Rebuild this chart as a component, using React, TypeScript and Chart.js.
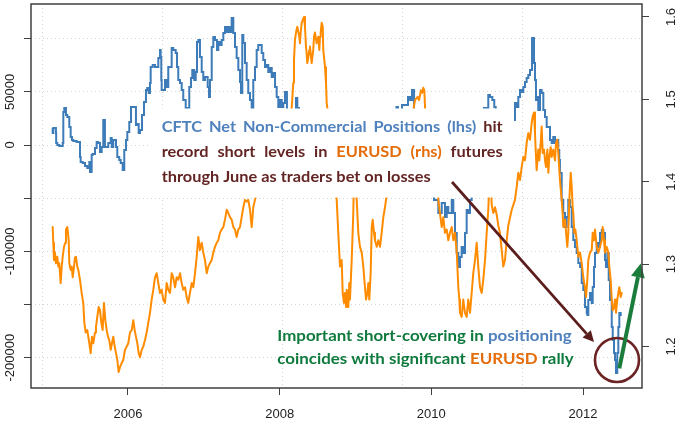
import { useEffect, useRef } from 'react';
import { Chart, registerables } from 'chart.js';

Chart.register(...registerables);

// ---------- DATA ----------
const cftcDates = [
  2005.007, 2005.015, 2005.05, 2005.053, 2005.068, 2005.094, 2005.139, 2005.147, 2005.16, 2005.182,
  2005.2, 2005.226, 2005.244, 2005.261, 2005.279, 2005.323, 2005.367, 2005.376, 2005.403, 2005.433,
  2005.463, 2005.49, 2005.499, 2005.521, 2005.534, 2005.565, 2005.587, 2005.608, 2005.631, 2005.653,
  2005.674, 2005.696, 2005.71, 2005.74, 2005.772, 2005.785, 2005.806, 2005.842, 2005.859, 2005.885,
  2005.904, 2005.93, 2005.951, 2005.974, 2005.991, 2006.017, 2006.04, 2006.07, 2006.105, 2006.115,
  2006.141, 2006.158, 2006.185, 2006.211, 2006.237, 2006.254, 2006.273, 2006.29, 2006.299, 2006.326,
  2006.356, 2006.4, 2006.422, 2006.431, 2006.439, 2006.444, 2006.465, 2006.488, 2006.51, 2006.531,
  2006.576, 2006.597, 2006.629, 2006.646, 2006.663, 2006.686, 2006.708, 2006.729, 2006.761, 2006.782,
  2006.808, 2006.831, 2006.848, 2006.874, 2006.893, 2006.91, 2006.927, 2006.949, 2006.972, 2006.993,
  2007.015, 2007.051, 2007.068, 2007.081, 2007.104, 2007.125, 2007.147, 2007.174, 2007.191, 2007.213,
  2007.235, 2007.257, 2007.279, 2007.302, 2007.323, 2007.345, 2007.367, 2007.389, 2007.411, 2007.433,
  2007.455, 2007.477, 2007.49, 2007.507, 2007.521, 2007.543, 2007.565, 2007.586, 2007.609, 2007.631,
  2007.652, 2007.675, 2007.697, 2007.718, 2007.741, 2007.763, 2007.784, 2007.807, 2007.829, 2007.85,
  2007.873, 2007.895, 2007.916, 2007.939, 2007.961, 2007.982, 2008.004, 2008.027, 2008.048, 2008.07,
  2008.096, 2008.123, 2008.163, 2008.215, 2008.233, 2008.255, 2008.308, 2008.36, 2008.44, 2008.52,
  2008.6, 2008.68, 2008.76, 2008.84, 2008.92, 2009.0, 2009.08, 2009.16, 2009.24, 2009.32,
  2009.4, 2009.48, 2009.54, 2009.56, 2009.573, 2009.613, 2009.692, 2009.719, 2009.745, 2009.772,
  2009.798, 2009.85, 2009.916, 2009.982, 2010.035, 2010.092, 2010.137, 2010.18, 2010.203, 2010.224,
  2010.269, 2010.29, 2010.312, 2010.335, 2010.356, 2010.378, 2010.4, 2010.421, 2010.444, 2010.466,
  2010.487, 2010.51, 2010.532, 2010.576, 2010.642, 2010.694, 2010.751, 2010.773, 2010.804, 2010.83,
  2010.849, 2010.875, 2010.932, 2010.985, 2011.037, 2011.077, 2011.103, 2011.126, 2011.147, 2011.169,
  2011.192, 2011.213, 2011.235, 2011.257, 2011.279, 2011.301, 2011.328, 2011.347, 2011.354, 2011.367,
  2011.38, 2011.389, 2011.41, 2011.433, 2011.455, 2011.477, 2011.499, 2011.521, 2011.543, 2011.565,
  2011.587, 2011.608, 2011.631, 2011.653, 2011.674, 2011.687, 2011.696, 2011.719, 2011.74, 2011.763,
  2011.785, 2011.806, 2011.828, 2011.851, 2011.872, 2011.894, 2011.917, 2011.938, 2011.961, 2011.983,
  2012.004, 2012.026, 2012.049, 2012.057, 2012.07, 2012.092, 2012.115, 2012.128, 2012.145, 2012.158,
  2012.181, 2012.202, 2012.224, 2012.247, 2012.268, 2012.29, 2012.303, 2012.321, 2012.339, 2012.356,
  2012.379, 2012.392, 2012.409, 2012.422, 2012.435, 2012.452, 2012.466, 2012.479, 2012.497, 2012.511,
];
const cftcNetPositions = [
  16000, 11300, 16000, 11300, 1900, 0, -900, 1900, 31000, 34800,
  28200, 26300, 16900, 7500, 4700, 3800, 2800, -11300, -16000, -16900,
  -19700, -21600, -16000, -25400, -9400, -8500, -2800, 2800, 1900, -6600,
  -1900, 23500, -1900, -1900, 1900, 6600, -1900, 4700, -1900, -11300,
  -14100, -16900, -23500, -4700, 4700, 12200, 21600, 35700, 35700, 18800,
  19700, 11300, 14100, 28200, 40400, 51700, 53600, 48900, 58300, 73400,
  75200, 73400, 81800, 89300, 82800, 61100, 51700, 51700, 61100, 54500,
  73400, 91200, 89300, 86500, 73400, 61100, 58300, 51700, 42300, 34800,
  34800, 54500, 63000, 70500, 61100, 68600, 96900, 98700, 82800, 68600,
  61100, 63900, 54500, 45100, 61100, 92200, 101600, 98700, 89300, 96900,
  94000, 98700, 105300, 111000, 106300, 111000, 106300, 119400, 105300, 92200,
  81800, 70500, 59200, 48900, 103400, 95900, 77100, 61100, 48900, 42300,
  34800, 61100, 73400, 89300, 94000, 94000, 86500, 79900, 73400, 75200,
  68600, 72400, 63900, 67700, 54500, 45100, 35700, 42300, 35700, 39500,
  49800, 30000, 18800, 32000, 44200, 34800, 14100, 20000, 8000, 15000,
  -5000, -15000, -30000, -38000, -20000, -10000, -25000, -35000, -18000, -5000,
  5000, 15000, 28000, 35700, 23500, 28200, 37600, 45100, 42300, 51700,
  32900, 18800, 4700, -14100, -37600, -51700, -63900, -54500, -67700, -58300,
  -63900, -51700, -63900, -82800, -101600, -114700, -105300, -95900, -101600, -82800,
  -61100, -63900, -51700, -23500, 4700, 28200, 34800, 47000, 45100, 42300,
  35700, 32900, 4700, -18800, -4700, 14100, 23500, 39500, 35700, 45100,
  51700, 49800, 54500, 59200, 63000, 65800, 70500, 100600, 100600, 77100,
  61100, 42300, 45100, 32900, 51700, 48900, 32900, 26300, 16900, 16900,
  4700, 1900, 7500, 1900, 4700, -4700, -14100, -26300, -51700, -63900,
  -77100, -67700, -51700, -58300, -77100, -89300, -95900, -101600, -111000, -114700,
  -129800, -136400, -152300, -158000, -159900, -145800, -139200, -148600, -133500, -114700,
  -101600, -92200, -95900, -82800, -79900, -82800, -108100, -114700, -101600, -127000,
  -145800, -171200, -183400, -195600, -202200, -214400, -195600, -171200, -158000, -159900,
];

const eurusdDates = [
  2005.007, 2005.015, 2005.024, 2005.037, 2005.05, 2005.068, 2005.081, 2005.094, 2005.112, 2005.126,
  2005.139, 2005.156, 2005.173, 2005.182, 2005.2, 2005.218, 2005.226, 2005.244, 2005.258, 2005.271,
  2005.288, 2005.301, 2005.314, 2005.331, 2005.345, 2005.367, 2005.389, 2005.41, 2005.424, 2005.442,
  2005.463, 2005.49, 2005.508, 2005.525, 2005.542, 2005.565, 2005.578, 2005.595, 2005.614, 2005.631,
  2005.648, 2005.666, 2005.683, 2005.701, 2005.719, 2005.736, 2005.753, 2005.772, 2005.789, 2005.806,
  2005.825, 2005.842, 2005.859, 2005.877, 2005.894, 2005.917, 2005.938, 2005.96, 2005.983, 2006.004,
  2006.026, 2006.049, 2006.07, 2006.088, 2006.105, 2006.123, 2006.141, 2006.158, 2006.181, 2006.202,
  2006.224, 2006.246, 2006.268, 2006.29, 2006.312, 2006.334, 2006.356, 2006.378, 2006.4, 2006.422,
  2006.444, 2006.465, 2006.488, 2006.51, 2006.531, 2006.554, 2006.576, 2006.597, 2006.62, 2006.642,
  2006.663, 2006.686, 2006.708, 2006.729, 2006.752, 2006.774, 2006.795, 2006.817, 2006.84, 2006.861,
  2006.884, 2006.906, 2006.927, 2006.949, 2006.972, 2006.993, 2007.015, 2007.038, 2007.059, 2007.081,
  2007.104, 2007.125, 2007.147, 2007.17, 2007.191, 2007.213, 2007.235, 2007.257, 2007.279, 2007.302,
  2007.323, 2007.345, 2007.367, 2007.389, 2007.411, 2007.433, 2007.455, 2007.477, 2007.499, 2007.521,
  2007.543, 2007.565, 2007.586, 2007.609, 2007.631, 2007.652, 2007.675, 2007.71, 2007.75, 2007.79,
  2007.83, 2007.87, 2007.91, 2007.95, 2007.99, 2008.03, 2008.07, 2008.11, 2008.159, 2008.18,
  2008.189, 2008.202, 2008.215, 2008.233, 2008.246, 2008.259, 2008.268, 2008.277, 2008.291, 2008.304,
  2008.321, 2008.334, 2008.347, 2008.356, 2008.364, 2008.378, 2008.391, 2008.4, 2008.422, 2008.443,
  2008.453, 2008.466, 2008.488, 2008.51, 2008.523, 2008.532, 2008.541, 2008.554, 2008.568, 2008.575,
  2008.598, 2008.611, 2008.62, 2008.628, 2008.65, 2008.68, 2008.71, 2008.73, 2008.752, 2008.773,
  2008.796, 2008.818, 2008.831, 2008.848, 2008.861, 2008.875, 2008.884, 2008.905, 2008.918, 2008.927,
  2008.95, 2008.971, 2008.987, 2009.0, 2009.016, 2009.037, 2009.059, 2009.082, 2009.103, 2009.125,
  2009.139, 2009.156, 2009.169, 2009.182, 2009.2, 2009.214, 2009.227, 2009.244, 2009.257, 2009.28,
  2009.301, 2009.323, 2009.345, 2009.367, 2009.389, 2009.402, 2009.43, 2009.47, 2009.51, 2009.55,
  2009.59, 2009.63, 2009.67, 2009.71, 2009.75, 2009.785, 2009.82, 2009.838, 2009.864, 2009.881,
  2009.894, 2009.908, 2009.917, 2009.95, 2009.99, 2010.03, 2010.07, 2010.092, 2010.114, 2010.137,
  2010.158, 2010.18, 2010.203, 2010.224, 2010.246, 2010.269, 2010.29, 2010.312, 2010.335, 2010.356,
  2010.369, 2010.378, 2010.4, 2010.421, 2010.444, 2010.466, 2010.487, 2010.51, 2010.532, 2010.553,
  2010.576, 2010.598, 2010.619, 2010.642, 2010.664, 2010.685, 2010.708, 2010.73, 2010.751, 2010.767,
  2010.78, 2010.796, 2010.817, 2010.84, 2010.862, 2010.883, 2010.905, 2010.928, 2010.949, 2010.971,
  2010.994, 2011.015, 2011.06, 2011.103, 2011.126, 2011.147, 2011.169, 2011.192, 2011.213, 2011.235,
  2011.257, 2011.279, 2011.301, 2011.323, 2011.336, 2011.354, 2011.367, 2011.38, 2011.389, 2011.41,
  2011.424, 2011.442, 2011.455, 2011.468, 2011.486, 2011.499, 2011.512, 2011.53, 2011.543, 2011.556,
  2011.574, 2011.587, 2011.608, 2011.631, 2011.644, 2011.661, 2011.674, 2011.696, 2011.719, 2011.732,
  2011.74, 2011.763, 2011.785, 2011.793, 2011.806, 2011.82, 2011.838, 2011.851, 2011.864, 2011.872,
  2011.885, 2011.899, 2011.917, 2011.938, 2011.961, 2011.983, 2012.004, 2012.026, 2012.04, 2012.057,
  2012.07, 2012.092, 2012.115, 2012.128, 2012.145, 2012.158, 2012.181, 2012.202, 2012.224, 2012.247,
  2012.26, 2012.277, 2012.29, 2012.312, 2012.334, 2012.347, 2012.365, 2012.379, 2012.392, 2012.409,
  2012.422, 2012.435, 2012.452, 2012.466, 2012.479, 2012.497, 2012.511,
];
const eurusdRates = [
  1.345, 1.326, 1.305, 1.314, 1.301, 1.309, 1.297, 1.301, 1.277, 1.297,
  1.309, 1.321, 1.326, 1.342, 1.345, 1.329, 1.301, 1.293, 1.297, 1.284,
  1.297, 1.308, 1.309, 1.297, 1.293, 1.281, 1.265, 1.253, 1.229, 1.217,
  1.22, 1.204, 1.192, 1.212, 1.204, 1.217, 1.224, 1.236, 1.248, 1.244,
  1.229, 1.22, 1.253, 1.232, 1.22, 1.212, 1.208, 1.196, 1.204, 1.212,
  1.2, 1.192, 1.184, 1.169, 1.175, 1.18, 1.184, 1.196, 1.2, 1.204,
  1.217, 1.22, 1.232, 1.22, 1.212, 1.204, 1.192, 1.187, 1.196, 1.2,
  1.208, 1.217, 1.229, 1.241, 1.257, 1.269, 1.284, 1.289, 1.277, 1.265,
  1.269, 1.257, 1.253, 1.277, 1.269, 1.265, 1.289, 1.284, 1.272, 1.284,
  1.281, 1.289, 1.277, 1.269, 1.272, 1.26, 1.253, 1.265, 1.277, 1.272,
  1.289, 1.309, 1.333, 1.317, 1.326, 1.314, 1.305, 1.289, 1.297, 1.301,
  1.305, 1.314, 1.321, 1.326, 1.329, 1.338, 1.342, 1.345, 1.354, 1.366,
  1.362, 1.357, 1.354, 1.345, 1.342, 1.333, 1.342, 1.345, 1.357, 1.369,
  1.378, 1.376, 1.378, 1.366, 1.345, 1.369, 1.378, 1.392, 1.405, 1.418,
  1.432, 1.455, 1.47, 1.458, 1.468, 1.478, 1.465, 1.478, 1.49, 1.52,
  1.548, 1.572, 1.581, 1.588, 1.582, 1.576, 1.568, 1.581, 1.593, 1.596,
  1.6, 1.588, 1.564, 1.556, 1.544, 1.551, 1.56, 1.564, 1.544, 1.56,
  1.576, 1.581, 1.568, 1.576, 1.56, 1.576, 1.581, 1.593, 1.588, 1.56,
  1.539, 1.52, 1.496, 1.49, 1.465, 1.44, 1.425, 1.4, 1.378, 1.338,
  1.297, 1.305, 1.265, 1.253, 1.265, 1.248, 1.269, 1.248, 1.277, 1.257,
  1.305, 1.362, 1.44, 1.42, 1.378, 1.338, 1.321, 1.314, 1.297, 1.272,
  1.257, 1.265, 1.277, 1.257, 1.289, 1.345, 1.354, 1.338, 1.329, 1.321,
  1.329, 1.321, 1.338, 1.357, 1.369, 1.378, 1.395, 1.405, 1.41, 1.42,
  1.43, 1.445, 1.46, 1.47, 1.48, 1.499, 1.503, 1.499, 1.511, 1.508,
  1.514, 1.511, 1.49, 1.455, 1.44, 1.425, 1.4, 1.378, 1.362, 1.345,
  1.357, 1.338, 1.342, 1.329, 1.338, 1.345, 1.329, 1.338, 1.314, 1.272,
  1.257, 1.241, 1.236, 1.257, 1.241, 1.236, 1.257, 1.241, 1.265, 1.289,
  1.305, 1.326, 1.297, 1.272, 1.265, 1.281, 1.305, 1.338, 1.366, 1.4,
  1.415, 1.372, 1.362, 1.369, 1.36, 1.347, 1.338, 1.317, 1.297, 1.305,
  1.329, 1.347, 1.366, 1.378, 1.394, 1.411, 1.402, 1.418, 1.43, 1.426,
  1.447, 1.459, 1.451, 1.471, 1.479, 1.484, 1.459, 1.43, 1.414, 1.439,
  1.426, 1.447, 1.467, 1.435, 1.439, 1.426, 1.418, 1.439, 1.411, 1.43,
  1.442, 1.43, 1.439, 1.426, 1.447, 1.451, 1.435, 1.402, 1.378, 1.362,
  1.345, 1.354, 1.329, 1.321, 1.338, 1.378, 1.411, 1.394, 1.369, 1.362,
  1.338, 1.342, 1.329, 1.309, 1.314, 1.301, 1.284, 1.272, 1.26, 1.281,
  1.305, 1.314, 1.317, 1.338, 1.329, 1.342, 1.321, 1.314, 1.321, 1.329,
  1.345, 1.329, 1.314, 1.321, 1.314, 1.297, 1.281, 1.257, 1.244, 1.248,
  1.257, 1.241, 1.257, 1.265, 1.272, 1.26, 1.265,
];

const xRange = [2004.721, 2012.778];
const xTickYears = [2006, 2008, 2010, 2012];
const xTickLabels = ['2006', '2008', '2010', '2012'];
const xGridYears = [2004.875, 2006.458, 2008.04, 2009.622, 2011.205];

const leftRange = [-228500, 132600];
const leftTicks = [100000, 50000, 0, -50000, -100000, -150000, -200000];
const leftTickLabels = ['', '50000', '0', '', '-100000', '', '-200000'];

const rightRange = [1.1497, 1.6157];
const rightTicks = [1.2, 1.3, 1.4, 1.5, 1.6];
const rightTickLabels = ['1.2', '1.3', '1.4', '1.5', '1.6'];

// annotation anchors (x in years, y in EURUSD units)
const brownArrow = { from: [2010.273, 1.3997], to: [2012.145, 1.2055] };
const greenArrow = { from: [2012.479, 1.1736], to: [2012.761, 1.3008] };
const circleCenter = [2012.448, 1.1837];

// ---------- STYLE ----------
const BLUE = '#3d7cb8';
const ORANGE = '#ff8c00';
const AXIS = '#404040';
const GRID = '#d3d3d3';
const LABEL = '#222222';
const T_BROWN = '#632523';
const T_BLUE = '#4f81bd';
const T_ORANGE = '#e46c0a';
const T_GREEN = '#0f7a3d';

type Seg = { t: string; c: string };
const note1: Seg[][] = [
  [{ t: 'CFTC Net Non-Commercial Positions (lhs)', c: T_BLUE }, { t: 'hit', c: T_BROWN }],
  [
    { t: 'record short levels in', c: T_BROWN },
    { t: 'EURUSD (rhs)', c: T_ORANGE },
    { t: 'futures', c: T_BROWN },
  ],
  [{ t: 'through June as traders bet on losses', c: T_BROWN }],
];
const note2: Seg[][] = [
  [{ t: 'Important short-covering in', c: T_GREEN }, { t: 'positioning', c: T_BLUE }],
  [
    { t: 'coincides with significant', c: T_GREEN },
    { t: 'EURUSD', c: T_ORANGE },
    { t: 'rally', c: T_GREEN },
  ],
];

function words(segs: Seg[]) {
  const out: Seg[] = [];
  segs.forEach((s) => s.t.split(' ').forEach((w) => out.push({ t: w, c: s.c })));
  return out;
}
function naturalWidth(ctx: CanvasRenderingContext2D, segs: Seg[]) {
  const ws = words(segs);
  const sp = ctx.measureText(' ').width;
  return ws.reduce((a, w) => a + ctx.measureText(w.t).width, 0) + sp * (ws.length - 1);
}
function drawTextLine(
  ctx: CanvasRenderingContext2D,
  segs: Seg[],
  x: number,
  y: number,
  sx: number,
  justify?: number
) {
  const ws = words(segs);
  const widths = ws.map((w) => ctx.measureText(w.t).width * sx);
  const total = widths.reduce((a, b) => a + b, 0);
  const gap = justify ? (justify - total) / (ws.length - 1) : ctx.measureText(' ').width * sx;
  let cx = x;
  ws.forEach((w, i) => {
    ctx.save();
    ctx.translate(cx, y);
    ctx.scale(sx, 1);
    ctx.fillStyle = w.c;
    ctx.fillText(w.t, 0, 0);
    ctx.restore();
    cx += widths[i] + gap;
  });
}
function drawArrow(
  ctx: CanvasRenderingContext2D,
  x1: number,
  y1: number,
  x2: number,
  y2: number,
  color: string,
  width: number,
  headLen: number,
  headHalf: number
) {
  const a = Math.atan2(y2 - y1, x2 - x1);
  const bx = x2 - headLen * Math.cos(a);
  const by = y2 - headLen * Math.sin(a);
  ctx.strokeStyle = color;
  ctx.lineWidth = width;
  ctx.lineCap = 'butt';
  ctx.beginPath();
  ctx.moveTo(x1, y1);
  ctx.lineTo(bx, by);
  ctx.stroke();
  ctx.fillStyle = color;
  ctx.beginPath();
  ctx.moveTo(x2, y2);
  ctx.lineTo(bx + headHalf * Math.sin(a), by - headHalf * Math.cos(a));
  ctx.lineTo(bx - headHalf * Math.sin(a), by + headHalf * Math.cos(a));
  ctx.closePath();
  ctx.fill();
}

const annotationPlugin = {
  id: 'annotations',
  afterDatasetsDraw(chart: any) {
    const ctx: CanvasRenderingContext2D = chart.ctx;
    const xs = chart.scales.x;
    const yr = chart.scales.y1;
    ctx.save();
    // white text box over the series
    ctx.fillStyle = '#ffffff';
    ctx.fillRect(148, 108.5, 366, 89);

    ctx.font = 'bold 15px Lato';
    ctx.textBaseline = 'alphabetic';
    ctx.textAlign = 'left';
    const sx1 = 269 / naturalWidth(ctx, note1[2]);
    drawTextLine(ctx, note1[0], 161.7, 132, sx1, 341);
    drawTextLine(ctx, note1[1], 161.7, 157.3, sx1, 341);
    drawTextLine(ctx, note1[2], 161.7, 181.7, sx1);
    const sx2 = 294.4 / naturalWidth(ctx, note2[0]);
    drawTextLine(ctx, note2[0], 277.3, 340.7, sx2);
    drawTextLine(ctx, note2[1], 277.3, 364, sx2);

    const px = (p: number[]) => [xs.getPixelForValue(p[0]), yr.getPixelForValue(p[1])];
    const b1 = px(brownArrow.from), b2 = px(brownArrow.to);
    drawArrow(ctx, b1[0], b1[1], b2[0], b2[1], '#5b1c1c', 2.7, 11, 5.5);
    const c = px(circleCenter);
    ctx.strokeStyle = '#6b2323';
    ctx.lineWidth = 2.6;
    ctx.beginPath();
    ctx.arc(c[0], c[1], 22, 0, Math.PI * 2);
    ctx.stroke();
    const g1 = px(greenArrow.from), g2 = px(greenArrow.to);
    drawArrow(ctx, g1[0], g1[1], g2[0], g2[1], '#1b7d3c', 4, 14, 7);
    ctx.restore();
  },
  afterDraw(chart: any) {
    const { ctx, chartArea } = chart;
    ctx.save();
    ctx.strokeStyle = AXIS;
    ctx.lineWidth = 1.5;
    ctx.strokeRect(chartArea.left, chartArea.top, chartArea.right - chartArea.left, chartArea.bottom - chartArea.top);
    ctx.restore();
  },
};

const tickFont = { family: 'Liberation Sans', size: 13 };

const fitVertical = (w: number) => (s: any) => {
  s.width = w;
  s.paddingTop = 0;
  s.paddingBottom = 0;
};
const fitHorizontal = (h: number) => (s: any) => {
  s.height = h;
  s.paddingLeft = 0;
  s.paddingRight = 0;
};

export default function App() {
  const ref = useRef<HTMLCanvasElement>(null);
  useEffect(() => {
    const chart = new Chart(ref.current as HTMLCanvasElement, {
      type: 'line',
      data: {
        datasets: [
          {
            label: 'EURUSD',
            data: eurusdDates.map((d, i) => ({ x: d, y: eurusdRates[i] })),
            xAxisID: 'x',
            yAxisID: 'y1',
            borderColor: ORANGE,
            borderWidth: 2,
            pointRadius: 0,
            tension: 0,
            fill: false,
            borderJoinStyle: 'round',
            borderCapStyle: 'round',
            order: 1,
          },
          {
            label: 'CFTC Net Non-Commercial Positions',
            data: cftcDates.map((d, i) => ({ x: d, y: cftcNetPositions[i] })),
            xAxisID: 'x',
            yAxisID: 'y',
            borderColor: BLUE,
            borderWidth: 2,
            pointRadius: 0,
            stepped: 'after',
            fill: false,
            borderJoinStyle: 'miter',
            borderCapStyle: 'butt',
            order: 2,
          },
        ],
      },
      options: {
        responsive: false,
        animation: false,
        events: [],
        layout: { padding: { top: 4, left: 0, right: 0, bottom: 0 } },
        plugins: { legend: { display: false }, tooltip: { enabled: false } },
        scales: {
          x: {
            type: 'linear',
            axis: 'x',
            position: 'bottom',
            min: xRange[0],
            max: xRange[1],
            bounds: 'data',
            afterBuildTicks: (s: any) => {
              s.ticks = xTickYears.map((v) => ({ value: v }));
            },
            afterFit: fitHorizontal(37),
            grid: { drawOnChartArea: false, drawTicks: true, tickLength: 7, tickColor: AXIS, tickWidth: 1 },
            border: { display: false },
            ticks: {
              callback: (v: any) => {
                const i = xTickYears.indexOf(v);
                return i >= 0 ? xTickLabels[i] : '';
              },
              font: tickFont,
              color: LABEL,
              padding: 12,
              maxRotation: 0,
              minRotation: 0,
              autoSkip: false,
            },
          },
          xg: {
            type: 'linear',
            axis: 'x',
            position: 'bottom',
            min: xRange[0],
            max: xRange[1],
            bounds: 'data',
            afterBuildTicks: (s: any) => {
              s.ticks = xGridYears.map((v) => ({ value: v }));
            },
            afterFit: fitHorizontal(0),
            grid: { drawOnChartArea: true, drawTicks: false, color: GRID, lineWidth: 1 },
            border: { display: false, dash: [1, 3] },
            ticks: { display: false },
          },
          y: {
            type: 'linear',
            axis: 'y',
            position: 'left',
            min: leftRange[0],
            max: leftRange[1],
            bounds: 'data',
            afterBuildTicks: (s: any) => {
              s.ticks = leftTicks.map((v) => ({ value: v }));
            },
            afterFit: fitVertical(31),
            grid: {
              drawOnChartArea: true,
              drawTicks: true,
              tickLength: 7,
              color: GRID,
              lineWidth: 1,
              tickColor: AXIS,
              tickWidth: 1,
            },
            border: { display: false, dash: [1, 3] },
            ticks: {
              callback: (v: any) => {
                const i = leftTicks.indexOf(v);
                return i >= 0 ? leftTickLabels[i] : '';
              },
              font: tickFont,
              color: LABEL,
              minRotation: 90,
              maxRotation: 90,
              crossAlign: 'center',
              padding: -10,
              autoSkip: false,
            },
          },
          y1: {
            type: 'linear',
            axis: 'y',
            position: 'right',
            min: rightRange[0],
            max: rightRange[1],
            bounds: 'data',
            afterBuildTicks: (s: any) => {
              s.ticks = rightTicks.map((v) => ({ value: v }));
            },
            afterFit: fitVertical(38),
            grid: { drawOnChartArea: false, drawTicks: true, tickLength: 7, tickColor: AXIS, tickWidth: 1 },
            border: { display: false },
            ticks: {
              callback: (v: any) => {
                const i = rightTicks.indexOf(v);
                return i >= 0 ? rightTickLabels[i] : '';
              },
              font: tickFont,
              color: LABEL,
              minRotation: 90,
              maxRotation: 90,
              crossAlign: 'center',
              padding: 13,
              autoSkip: false,
            },
          },
        },
      } as any,
      plugins: [annotationPlugin],
    } as any);
    return () => chart.destroy();
  }, []);
  return (
    <div style={{ position: 'fixed', left: 0, top: 0, width: 680, height: 425, background: '#ffffff' }}>
      <canvas ref={ref} width={680} height={425} style={{ display: 'block', width: 680, height: 425 }} />
    </div>
  );
}
